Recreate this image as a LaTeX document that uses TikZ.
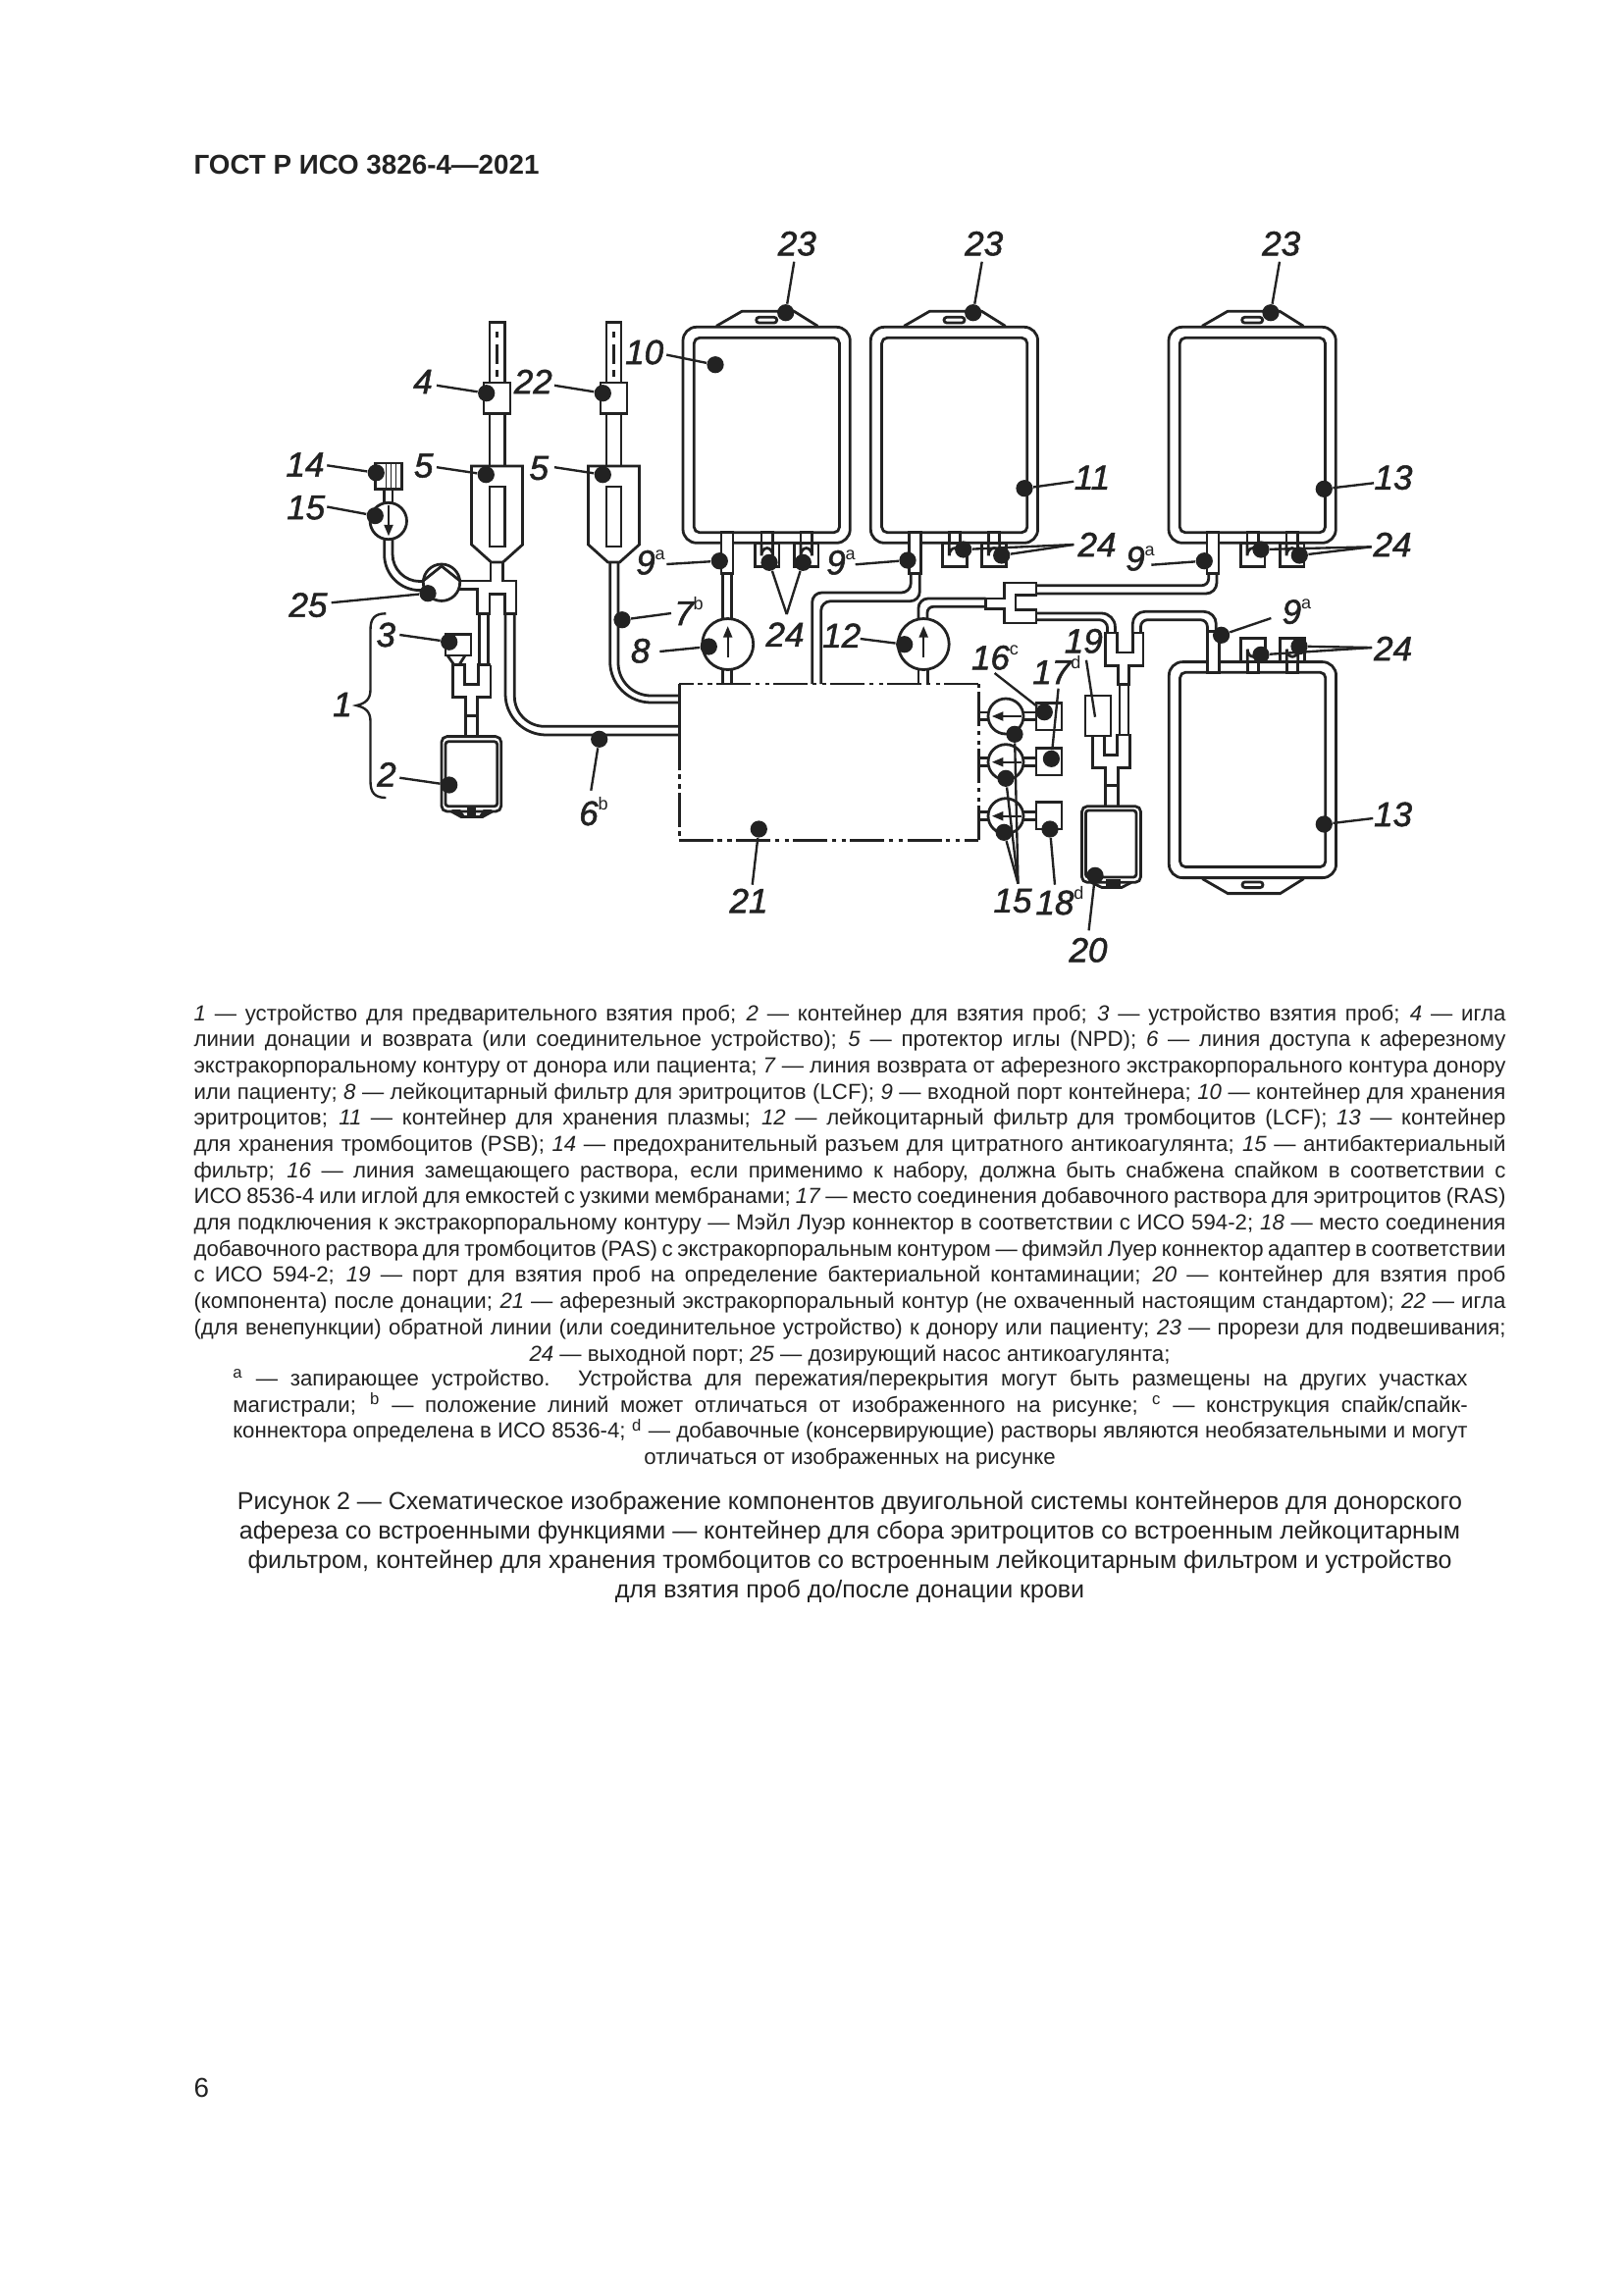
\documentclass[tikz,border=0pt]{standalone}
\usepackage{fontspec}
\setmainfont{Liberation Sans}
\newfontfamily\labfont[ItalicFeatures={FakeBold=1.5}]{Liberation Sans}
\usetikzlibrary{arrows.meta}
\definecolor{ink}{HTML}{222222}
\tikzset{
  ln/.style={draw=ink,line width=1pt},
  lab/.style={inner sep=0pt,text=ink,font=\fontsize{12.6}{14}\selectfont\labfont\itshape},
  dotn/.style={circle,fill=ink,inner sep=0pt,minimum size=6.2pt},
  leader/.style={draw=ink,line width=0.85pt},
  arr/.style={draw=ink,line width=0.85pt,-{Triangle[width=3.2pt,length=4.2pt]}},
  txt/.style={inner sep=0pt,text=ink,anchor=base west},
  dashdot/.style={ln,dash pattern=on 12.6pt off 1.5pt on 1.6pt off 2pt on 1.6pt off 1.6pt}
}
\newcommand{\supl}[1]{\raisebox{5.5pt}{\fontsize{6.5}{7}\selectfont\upshape #1}}
\newcommand{\callout}[5]{%
  \node[lab] (l#1) at (#2) {#3};
  \coordinate (s#1) at (#4);
  \node[dotn] (d#1) at (#5) {};
  \draw[leader] (s#1) -- (d#1);}
\newcommand{\numit}[1]{\textit{#1}}
\newcommand{\jla}[1]{\hbox to 481.3pt{#1}}
\newcommand{\jlb}[1]{\hbox to 453pt{#1}}
% bag in local coordinates: outer 170.3 x 220
\newcommand{\portbox}[1]{%
  \draw[ln,fill=white] (#1+6.5,209.4) rectangle (#1+18,220);
  \draw[ln,fill=white] (#1,220) rectangle (#1+24.5,244.4);
  \draw[ln] (#1+6.5,220) -- (#1+6.5,233) arc[start angle=180,end angle=360,radius=5.75,y radius=7.7] -- (#1+18,220);}
\newcommand{\bagshape}{%
  \draw[ln,rounded corners=5pt] (0,0) rectangle (170.3,220);
  \draw[ln,rounded corners=2pt] (11.3,11) rectangle (159.5,209.4);
  \draw[ln] (34,-1) -- (60,-16) -- (113.3,-16) -- (137.3,-1);
  \draw[ln,rounded corners=1pt] (74.7,-10) rectangle (95.7,-4.3);
  \draw[ln,fill=white] (39,209.4) rectangle (51,251);
  \portbox{73.5}
  \portbox{113.5}}
\newcommand{\smallfilter}[1]{%
  \draw[ln] (997.3,#1-4) -- (1007.2,#1-4);
  \draw[ln] (997.3,#1+3.7) -- (1007.2,#1+3.7);
  \draw[ln] (1042.8,#1-4) -- (1056,#1-4);
  \draw[ln] (1042.8,#1+3.7) -- (1056,#1+3.7);
  \draw[ln] (1025,#1) circle[radius=18];
  \draw[arr] (1041,#1) -- (1010.7,#1);}
\begin{document}
\begin{tikzpicture}[x=0.36pt,y=-0.36pt]
\useasboundingbox (0,0) rectangle (1654,2339);
\fill[white] (0,0) rectangle (1654,2339);

% ---------- header and page number
\node[txt,font=\fontsize{10}{12}\selectfont\bfseries] (head) at (197,177) {ГОСТ Р ИСО 3826-4—2021};
\node[txt,font=\fontsize{10}{12}\selectfont] (pageno) at (197,2137) {6};

% ---------- needles, protectors
\foreach \cx/\nn in {506.6/a,625.5/b}{
  \draw[ln] (\cx-7.6,328.7) rectangle (\cx+7.6,390);
  \draw[ln,dash pattern=on 2.2pt off 2.5pt on 7pt off 2.5pt] (\cx,338) -- (\cx,390);
  \draw[ln] (\cx-13.5,390) rectangle (\cx+13.5,421.7);
  \draw[ln] (\cx-7.6,421.7) -- (\cx-7.6,475);
  \draw[ln] (\cx+7.6,421.7) -- (\cx+7.6,475);
  \draw[ln] (\cx-26,475) -- (\cx+26,475) -- (\cx+26,555) -- (\cx+6,573) -- (\cx-6,573) -- (\cx-26,555) -- cycle;
  \draw[ln] (\cx-7.6,496) rectangle (\cx+7.6,557);
}

% ---------- manifold under needle 4
\draw[ln] (500,573) -- (500,592) -- (468.3,592);
\draw[ln] (512.6,573) -- (512.6,592) -- (526,592) -- (526,625.3) -- (514.3,625.3) -- (514.3,605.5) -- (499,605.5) -- (499,625.3) -- (486.7,625.3) -- (486.7,600.4) -- (468.3,600.4);

% ---------- anticoagulant branch
\draw[ln] (382.7,471.9) rectangle (409.3,498.8);
\foreach \vx in {393.3,398.3,403.3}{\draw[ln,line width=0.5pt] (\vx,472) -- (\vx,498.8);}
\draw[ln] (391.7,498.8) -- (391.7,512.5);
\draw[ln] (400,498.8) -- (400,512);
\draw[ln] (395.8,531) circle[radius=18.7];
\draw[arr] (396,514.6) -- (396,546.5);
\draw[ln,rounded corners=13pt] (391.7,550) -- (391.7,601.6) -- (432,601.6);
\draw[ln,rounded corners=10pt] (400,550) -- (400,592.5) -- (431,592.5);
\draw[ln] (450,593.7) circle[radius=18.7];
\draw[ln] (432.5,591) -- (450,577) -- (467.5,591);

% ---------- sample pouch branch 1-3
\draw[ln] (488.3,625.3) -- (488.3,677.5);
\draw[ln] (497.7,625.3) -- (497.7,677.5);
\draw[ln] (500,677.5) -- (500,710.3) -- (486.7,710.3) -- (486.7,750);
\draw[ln] (474.3,750) -- (474.3,710.3) -- (461.7,710.3) -- (461.7,677.5) -- (473.3,677.5) -- (473.3,697.2) -- (487.3,697.2) -- (487.3,677.5) -- (500,677.5);
\draw[ln] (474.3,729.3) -- (486.7,729.3);
\draw[ln] (454,646.2) rectangle (480,668);
\draw[ln] (456,668) -- (462.7,677.5);
\draw[ln] (474,668) -- (468,677.5);
\draw[ln,rounded corners=2pt] (450,750.6) rectangle (510.7,827);
\draw[ln,rounded corners=1pt] (454,755.8) rectangle (506.7,821.7);
\draw[ln] (460,827) -- (470,832.5) -- (491.7,832.5) -- (501.7,827);
\fill[ink] (460,825) -- (469,825) -- (474,832) -- (470,832.5) -- cycle;
\fill[ink] (501.7,825) -- (492.7,825) -- (488,832) -- (491.7,832.5) -- cycle;
\fill[ink] (476,822) rectangle (485,832);

% ---------- brace of item 1
\draw[leader] (393.3,625.3) .. controls (382,625.3) and (377.5,630) .. (377.5,642) -- (377.5,703) .. controls (377.5,713) and (372,717) .. (363.3,719) .. controls (372,721) and (377.5,725) .. (377.5,735) -- (377.5,796) .. controls (377.5,808) and (382,813) .. (393.3,813);

% ---------- lines 6 and 7
\draw[ln,rounded corners=15pt] (515,625.3) -- (515,749) -- (692.3,749);
\draw[ln,rounded corners=11pt] (524.3,625.3) -- (524.3,740.3) -- (692.3,740.3);
\draw[ln,rounded corners=15pt] (621.7,573) -- (621.7,716) -- (692.3,716);
\draw[ln,rounded corners=12pt] (630,573) -- (630,709) -- (692.3,709);

% ---------- extracorporeal circuit 21
\draw[ln] (692.3,697) -- (692.3,750);
\draw[dashdot] (692.3,750) -- (692.3,856.3);
\draw[dashdot] (692.3,856.3) -- (997.3,856.3);
\draw[dashdot] (997.3,856.3) -- (997.3,697);
\draw[dashdot] (997.3,697) -- (692.3,697);

% ---------- bags
\begin{scope}[shift={(696,333.3)}] \bagshape \end{scope}
\begin{scope}[shift={(887.3,333.3)}] \bagshape \end{scope}
\begin{scope}[shift={(1191,333.3)}] \bagshape \end{scope}
\begin{scope}[shift={(1191.3,894.6)},yscale=-1] \bagshape \end{scope}

% ---------- filter 8
\draw[ln] (736.7,585) -- (736.7,630.5);
\draw[ln] (745.7,585) -- (745.7,630.5);
\draw[ln] (736.7,683) -- (736.7,697);
\draw[ln] (745.7,683) -- (745.7,697);
\draw[ln] (741.7,656.5) circle[radius=26];
\draw[arr] (741.7,670) -- (741.7,638);

% ---------- line from bag 11 into circuit
\draw[ln,rounded corners=3.5pt] (928.3,585) -- (928.3,604) -- (827.7,604) -- (827.7,697);
\draw[ln,rounded corners=3.5pt] (937.3,585) -- (937.3,612.7) -- (836.7,612.7) -- (836.7,697);

% ---------- filter 12
\draw[ln] (936,683) -- (936,697);
\draw[ln] (945.7,683) -- (945.7,697);
\draw[ln] (941.2,656.5) circle[radius=26];
\draw[arr] (941.2,670) -- (941.2,638);
\draw[ln,rounded corners=3.5pt] (936,630.5) -- (936,610) -- (1004.6,610);
\draw[ln,rounded corners=2.2pt] (945,630) -- (945,618.3) -- (1004.6,618.3);
\draw[ln] (1004.6,610) -- (1023.2,610) -- (1023.2,594) -- (1056,594) -- (1056,606.7) -- (1035,606.7) -- (1035,621.7) -- (1056,621.7) -- (1056,635) -- (1023.2,635) -- (1023.2,620.7) -- (1004.6,620.7) -- cycle;

% ---------- tubes to the two platelet bags
\draw[ln,rounded corners=2.5pt] (1056,596.7) -- (1231.7,596.7) -- (1231.7,585);
\draw[ln,rounded corners=4pt] (1056,605) -- (1240,605) -- (1240,585);
\draw[ln,rounded corners=5pt] (1056,625) -- (1136.4,625) -- (1136.4,645);
\draw[ln,rounded corners=3pt] (1056,631.7) -- (1128.6,631.7) -- (1128.6,645);
\draw[ln,rounded corners=4.5pt] (1154.3,645) -- (1154.3,623.3) -- (1239.3,623.3) -- (1239.3,645);
\draw[ln,rounded corners=2.5pt] (1162.5,645) -- (1162.5,631.7) -- (1230.4,631.7) -- (1230.4,645);

% ---------- Y connectors, port 19, pouch 20
\draw[ln] (1126.8,645) -- (1138.2,645) -- (1138.2,665) -- (1154.3,665) -- (1154.3,645) -- (1165,645) -- (1165,678.3) -- (1150.7,678.3) -- (1150.7,697.3) -- (1139.3,697.3) -- (1139.3,678.3) -- (1126.8,678.3) -- cycle;
\draw[ln] (1141,697.3) -- (1141,749);
\draw[ln] (1150,697.3) -- (1150,749);
\draw[ln] (1106,709) rectangle (1132,750);
\draw[ln] (1113.2,750) -- (1125.7,750) -- (1125.7,769.3) -- (1138.6,769.3) -- (1138.6,749) -- (1151.8,749) -- (1151.8,782.7) -- (1139.3,782.7) -- (1139.3,821.7);
\draw[ln] (1126.8,821.7) -- (1126.8,782.7) -- (1113.2,782.7) -- (1113.2,750);
\draw[ln] (1126.8,800.7) -- (1139.3,800.7);
\draw[ln,rounded corners=2pt] (1102.5,821.7) rectangle (1162.5,899.3);
\draw[ln,rounded corners=1pt] (1106.4,826) rectangle (1157.9,894);
\draw[ln] (1112,899.3) -- (1123,904.5) -- (1143,904.5) -- (1153,899.3);
\fill[ink] (1127,896) rectangle (1142,903);

% ---------- filters 15 and connection boxes
\smallfilter{730}
\smallfilter{776.7}
\smallfilter{831.7}
\draw[ln] (1056,716.7) rectangle (1082,744);
\draw[ln] (1056,762.3) rectangle (1082,790);
\draw[ln] (1056,817.7) rectangle (1082,845);

% ---------- callouts
\callout{four}{431,389}{4}{445,392.8}{495.7,400.7}
\callout{twtwo}{543.3,389}{22}{565,392.8}{614.3,400.7}
\callout{ten}{656.7,359}{10}{679.3,361.6}{729,371.7}
\callout{fta}{311,473.5}{14}{333.3,474.3}{383.3,481.8}
\callout{fivea}{431.7,474.6}{5}{445,476.2}{495.3,483.7}
\callout{fiveb}{549.3,477}{5}{565,476.2}{614.3,483.7}
\callout{ftb}{311.7,517.3}{15}{333.3,516.5}{382.3,525.6}
\callout{tf}{314,616.6}{25}{337.7,614.2}{436,604.7}
\callout{three}{393.3,647}{3}{407.3,647}{457.7,654.2}
\node[lab] (lone) at (349,718) {1};
\callout{two}{394,789.3}{2}{407.3,792.7}{457.7,800}
\callout{six}{605,827}{6\supl{b}}{602.3,805.7}{610.7,753.3}
\callout{seven}{702,623}{7\supl{b}}{684,625}{634,631.7}
\callout{eight}{652.7,663.3}{8}{672.3,664}{722.3,659}
\callout{twtha}{812.3,248.3}{23}{809.3,266.7}{800.7,318.7}
\callout{twthb}{1002.7,248.3}{23}{1000.7,266.7}{991.7,318.7}
\callout{twthc}{1305.7,248.3}{23}{1304,266.7}{1295,318.7}
\callout{eleven}{1113,486.7}{11}{1094.3,490.7}{1044,497.7}
\callout{thta}{1420,486.7}{13}{1400,492.3}{1349.3,498.3}
\callout{thtb}{1419.6,830}{13}{1399.3,834}{1349.3,840}
\callout{ninea}{663,573}{9\supl{a}}{679.3,575}{733.3,571.7}
\callout{nineb}{857,573}{9\supl{a}}{871.7,575.3}{925,571}
\callout{ninec}{1162,569}{9\supl{a}}{1173.3,575.7}{1227.3,571.7}
\callout{nined}{1321.4,623.3}{9\supl{a}}{1295.4,630}{1244.6,647.3}
\callout{twelve}{857.7,647.7}{12}{876.7,651}{921.7,656.7}
\callout{sixt}{1014,670}{16\supl{c}}{1013.6,686}{1064.3,725.7}
\callout{sevt}{1076.8,683}{17\supl{d}}{1078.6,701.7}{1071.4,773.3}
\callout{eigt}{1080,918}{18\supl{d}}{1075,901.7}{1070,845}
\callout{twnt}{1109,968.3}{20}{1109.6,948.3}{1116,892.3}
\callout{twoone}{763,918}{21}{766.7,901.7}{773.3,845}

% leader of 19 ends without a dot
\node[lab] (lnineteen) at (1104.3,653.3) {19};
\coordinate (snineteen) at (1107,672.7);
\coordinate (enineteen) at (1116,730.7);
\draw[leader] (snineteen) -- (enineteen);

% groups of 24 and 15
\node[lab] (lfa) at (800,646.7) {24};
\coordinate (sfa) at (801.7,626);
\node[dotn] (dfaa) at (784,573.3) {};
\node[dotn] (dfab) at (818.3,573.3) {};
\draw[leader] (sfa) -- (dfaa);
\draw[leader] (sfa) -- (dfab);

\node[lab] (lfb) at (1118,555) {24};
\coordinate (sfb) at (1094.3,555);
\node[dotn] (dfba) at (981.7,560) {};
\node[dotn] (dfbb) at (1020.7,566) {};
\draw[leader] (sfb) -- (dfba);
\draw[leader] (sfb) -- (dfbb);

\node[lab] (lfc) at (1419,555) {24};
\coordinate (sfc) at (1397.7,557.3);
\node[dotn] (dfca) at (1285,560) {};
\node[dotn] (dfcb) at (1324.3,566) {};
\draw[leader] (sfc) -- (dfca);
\draw[leader] (sfc) -- (dfcb);

\node[lab] (lfd) at (1419.6,661) {24};
\coordinate (sfd) at (1398.2,660);
\node[dotn] (dfda) at (1285,667.3) {};
\node[dotn] (dfdb) at (1324,658.7) {};
\draw[leader] (sfd) -- (dfda);
\draw[leader] (sfd) -- (dfdb);

\node[lab] (lft) at (1032,918) {15};
\coordinate (sft) at (1037.5,900.7);
\node[dotn] (dfta) at (1034,748.3) {};
\node[dotn] (dftb) at (1025,793.3) {};
\node[dotn] (dftc) at (1023.2,848.3) {};
\draw[leader] (sft) -- (dfta);
\draw[leader] (sft) -- (dftb);
\draw[leader] (sft) -- (dftc);

% ---------- legend
\node[txt,font=\fontsize{8}{9.6}\selectfont] (legend) at (197,1040.3) {\vtop{\baselineskip=9.6pt\lineskiplimit=-10pt
\jla{\numit{1} — устройство для предварительного взятия проб; \numit{2} — контейнер для взятия проб; \numit{3} — устройство взятия проб; \numit{4} — игла}
\jla{линии донации и возврата (или соединительное устройство); \numit{5} — протектор иглы (NPD); \numit{6} — линия доступа к аферезному}
\jla{экстракорпоральному контуру от донора или пациента; \numit{7} — линия возврата от аферезного экстракорпорального контура донору}
\jla{или пациенту; \numit{8} — лейкоцитарный фильтр для эритроцитов (LCF); \numit{9} — входной порт контейнера; \numit{10} — контейнер для хранения}
\jla{эритроцитов; \numit{11} — контейнер для хранения плазмы; \numit{12} — лейкоцитарный фильтр для тромбоцитов (LCF); \numit{13} — контейнер}
\jla{для хранения тромбоцитов (PSB); \numit{14} — предохранительный разъем для цитратного антикоагулянта; \numit{15} — антибактериальный}
\jla{фильтр; \numit{16} — линия замещающего раствора, если применимо к набору, должна быть снабжена спайком в соответствии с}
\jla{ИСО 8536-4 или иглой для емкостей с узкими мембранами; \numit{17} — место соединения добавочного раствора для эритроцитов (RAS)}
\jla{для подключения к экстракорпоральному контуру — Мэйл Луэр коннектор в соответствии с ИСО 594-2; \numit{18} — место соединения}
\jla{добавочного раствора для тромбоцитов (PAS) с экстракорпоральным контуром — фимэйл Луер коннектор адаптер в соответствии}
\jla{с ИСО 594-2; \numit{19} — порт для взятия проб на определение бактериальной контаминации; \numit{20} — контейнер для взятия проб}
\jla{(компонента) после донации; \numit{21} — аферезный экстракорпоральный контур (не охваченный настоящим стандартом); \numit{22} — игла}
\jla{(для венепункции) обратной линии (или соединительное устройство) к донору или пациенту; \numit{23} — прорези для подвешивания;}
}};
\node[txt,font=\fontsize{8}{9.6}\selectfont,anchor=base] (legendend) at (866,1387) {\numit{24} — выходной порт; \numit{25} — дозирующий насос антикоагулянта;};

\node[txt,font=\fontsize{8}{9.6}\selectfont] (notes) at (236.7,1412.5) {\vtop{\baselineskip=9.6pt\lineskiplimit=-10pt
\jlb{\textsuperscript{a} — запирающее устройство. Устройства для пережатия/перекрытия могут быть размещены на других участках}
\jlb{магистрали; \textsuperscript{b} — положение линий может отличаться от изображенного на рисунке; \textsuperscript{c} — конструкция спайк/спайк-}
\jlb{коннектора определена в ИСО 8536-4; \textsuperscript{d} — добавочные (консервирующие) растворы являются необязательными и могут}
}};
\node[txt,font=\fontsize{8}{9.6}\selectfont,anchor=base] (notesend) at (866,1492.6) {отличаться от изображенных на рисунке};

% ---------- caption
\node[txt,font=\fontsize{9}{10.8}\selectfont,anchor=base] (capa) at (866,1538.5) {Рисунок 2 — Схематическое изображение компонентов двуигольной системы контейнеров для донорского};
\node[txt,font=\fontsize{9}{10.8}\selectfont,anchor=base] (capb) at (866,1568.4) {афереза со встроенными функциями — контейнер для сбора эритроцитов со встроенным лейкоцитарным};
\node[txt,font=\fontsize{9}{10.8}\selectfont,anchor=base] (capc) at (866,1598.3) {фильтром, контейнер для хранения тромбоцитов со встроенным лейкоцитарным фильтром и устройство};
\node[txt,font=\fontsize{9}{10.8}\selectfont,anchor=base] (capd) at (866,1628.2) {для взятия проб до/после донации крови};
\end{tikzpicture}
\end{document}
